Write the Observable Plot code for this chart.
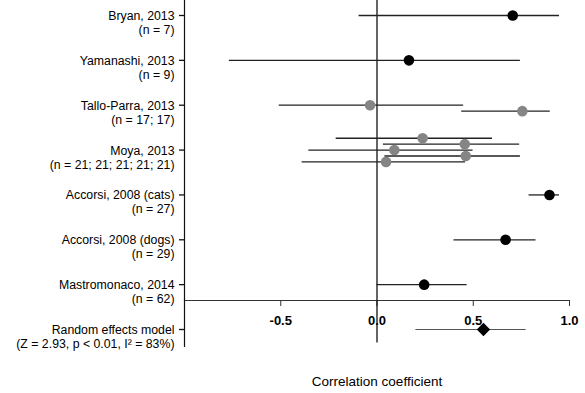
<!DOCTYPE html>
<html>
<head>
<meta charset="utf-8">
<script src="https://cdn.jsdelivr.net/npm/d3@7"></script>
<script src="https://cdn.jsdelivr.net/npm/@observablehq/plot@0.6"></script>
<style>
  html, body { margin: 0; padding: 0; background: #fff; }
  body { position: relative; width: 585px; height: 393px; overflow: hidden; font-family: "Liberation Sans", Arial, sans-serif; }
  #chart svg { display: block; }
  #xtitle { position: absolute; left: 377px; top: 374px; transform: translateX(-50%); font-size: 13.5px; line-height: 16px; white-space: nowrap; color: #000; }
</style>
</head>
<body>
<div id="chart"></div>
<div id="xtitle">Correlation coefficient</div>
<script>
// Study rows (top to bottom)
const studies = ["Bryan, 2013", "Yamanashi, 2013", "Tallo-Parra, 2013", "Moya, 2013",
  "Accorsi, 2008 (cats)", "Accorsi, 2008 (dogs)", "Mastromonaco, 2014", "Random effects model"];
const sampleSizes = ["(n = 7)", "(n = 9)", "(n = 17; 17)", "(n = 21; 21; 21; 21; 21)",
  "(n = 27)", "(n = 29)", "(n = 62)", "(Z = 2.93, p < 0.01, I\u00B2 = 83%)"];

// Individual effect estimates
const effStudy = [0, 1, 2, 2, 3, 3, 3, 3, 3, 4, 5, 6];
const effSub   = [0, 0, 0, 1, 0, 1, 2, 3, 4, 0, 0, 0];
const effR     = [0.705, 0.166, -0.036, 0.755, 0.237, 0.456, 0.090, 0.461, 0.047, 0.896, 0.668, 0.245];
const effLo    = [-0.093, -0.767, -0.508, 0.440, -0.212, 0.033, -0.354, 0.041, -0.389, 0.790, 0.400, 0.000];
const effHi    = [0.948, 0.745, 0.450, 0.900, 0.600, 0.741, 0.499, 0.745, 0.460, 0.948, 0.826, 0.468];

// Pooled estimate
const pooledR = [0.553];
const pooledLo = [0.202];
const pooledHi = [0.775];

const xTicks = [-0.5, 0, 0.5, 1.0];

const W = 585, ML = 184, MR = 16, TICK = 5;
const counts = d3.rollup(effStudy, v => v.length, d => d);
const effects = effR.map((r, i) => {
  const n = counts.get(effStudy[i]);
  const off = (effSub[i] - Math.floor((n - 1) / 2)) * 0.132;
  return {row: effStudy[i] + off, r, lo: effLo[i], hi: effHi[i], multi: n > 1};
});
const pooled = pooledR.map((r, i) => ({row: studies.length - 1, r, lo: pooledLo[i], hi: pooledHi[i]}));
const rows = studies.map((s, i) => i);

const plot = Plot.plot({
  width: W,
  height: 360,
  marginLeft: ML,
  marginRight: MR,
  marginTop: 0,
  marginBottom: 60,
  style: {fontFamily: "'Liberation Sans', Arial, sans-serif", fontSize: "12px", color: "#000", background: "#fff"},
  x: {domain: [-1, 1]},
  y: {domain: [0, 7], range: [15, 329], axis: null},
  marks: [
    Plot.frame({anchor: "bottom", stroke: "#333", strokeWidth: 1.2}),
    Plot.axisX({ticks: xTicks, tickSize: 6, tickPadding: 9, tickFormat: d => d.toFixed(1),
      fontWeight: "bold", fontSize: 13, label: null, stroke: "#333"}),
    Plot.ruleX([-1], {y1: -0.34, y2: 7.4, stroke: "#111", strokeWidth: 1.2}),
    Plot.ruleX([0], {y1: -0.34, y2: 7.3, stroke: "#111", strokeWidth: 1.3}),
    Plot.text(rows, {y: d => d, text: i => studies[i] + "\n" + sampleSizes[i],
      frameAnchor: "left", dx: -10, dy: 7, textAnchor: "end", lineAnchor: "middle",
      fontSize: 12.3, lineHeight: 1.14, fill: "#000"}),
    Plot.ruleY(effects, {y: "row", x1: "lo", x2: "hi", stroke: "#222", strokeWidth: 1.3}),
    Plot.dot(effects, {x: "r", y: "row", r: 5.3, fill: d => d.multi ? "#858585" : "#000", stroke: null}),
    Plot.ruleY(pooled, {y: "row", x1: "lo", x2: "hi", stroke: "#555", strokeWidth: 1.2}),
    Plot.dot(pooled, {x: "r", y: "row", r: 6, symbol: "diamond2", fill: "#000", stroke: null}),
    // y-axis tick marks (short, pointing left of the axis line)
    Plot.ruleY(rows, {y: d => d, insetRight: W - ML - MR - TICK, dx: -TICK, stroke: "#111", strokeWidth: 1.3})
  ]
});
document.getElementById("chart").append(plot);
</script>
</body>
</html>
